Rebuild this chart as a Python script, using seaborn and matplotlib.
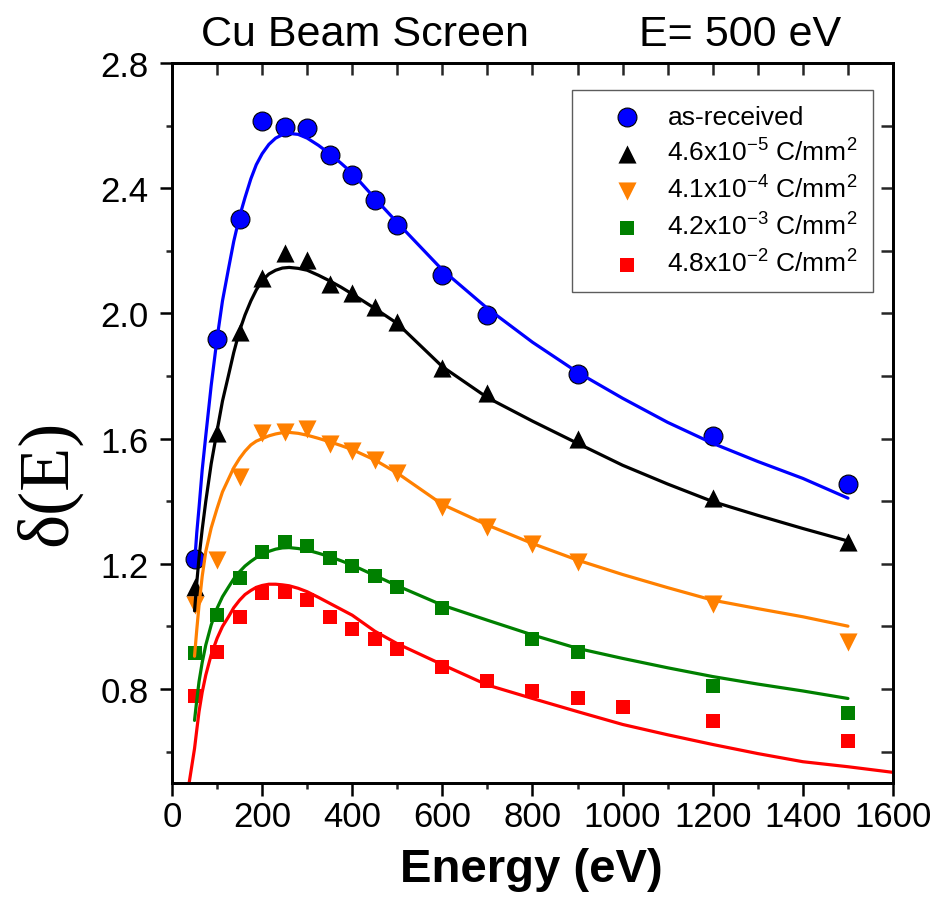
import matplotlib
matplotlib.use("Agg")
import matplotlib.pyplot as plt
import numpy as np
import seaborn as sns

sns.set_style("ticks")
plt.rcParams["font.family"] = ["Liberation Sans", "DejaVu Sans"]
plt.rcParams["text.color"] = "black"
plt.rcParams["mathtext.fontset"] = "custom"
plt.rcParams["mathtext.rm"] = "Liberation Sans"
plt.rcParams["mathtext.it"] = "Liberation Sans:italic"

# measured points
energy = [50, 100, 150, 200, 250, 300, 350, 400, 450, 500, 600, 700, 900, 1200, 1500]
sey_as_received = [1.214, 1.917, 2.303, 2.615, 2.595, 2.592, 2.505, 2.442, 2.361, 2.282,
                   2.122, 1.994, 1.805, 1.607, 1.454]

energy_46e5 = [50, 100, 150, 200, 250, 300, 350, 400, 450, 500, 600, 700, 900, 1200, 1500]
sey_46e5 = [1.126, 1.617, 1.942, 2.112, 2.192, 2.171, 2.093, 2.064, 2.022, 1.974,
            1.825, 1.745, 1.600, 1.410, 1.271]

energy_41e4 = [50, 100, 150, 200, 250, 300, 350, 400, 450, 500, 600, 700, 800, 900, 1200, 1500]
sey_41e4 = [1.068, 1.212, 1.478, 1.617, 1.620, 1.631, 1.582, 1.560, 1.532, 1.489,
            1.383, 1.319, 1.262, 1.207, 1.071, 0.951]

energy_42e3 = [50, 100, 150, 200, 250, 300, 350, 400, 450, 500, 600, 800, 900, 1200, 1500]
sey_42e3 = [0.916, 1.036, 1.156, 1.239, 1.271, 1.257, 1.220, 1.193, 1.161, 1.127,
            1.060, 0.959, 0.919, 0.810, 0.725]

energy_48e2 = [50, 100, 150, 200, 250, 300, 350, 400, 450, 500, 600, 700, 800, 900, 1000, 1200, 1500]
sey_48e2 = [0.778, 0.919, 1.029, 1.108, 1.110, 1.084, 1.029, 0.992, 0.959, 0.929,
            0.869, 0.826, 0.794, 0.770, 0.744, 0.698, 0.635]

# fitted curves
fit_energy = [50, 55, 60, 67, 75, 87, 100, 112, 125, 137, 150, 162, 175, 187, 200, 215,
              230, 245, 260, 280, 300, 325, 350, 375, 400, 450, 500,
              600, 700, 800, 900, 1000, 1100, 1200, 1300, 1400, 1500]
fit_as_received = [1.20, 1.30, 1.38, 1.50, 1.61, 1.77, 1.92, 2.04, 2.14, 2.23, 2.31, 2.37,
                   2.43, 2.475, 2.51, 2.54, 2.56, 2.571, 2.575, 2.572, 2.56, 2.537, 2.51,
                   2.48, 2.448, 2.368, 2.29, 2.139, 2.016, 1.908, 1.812, 1.729, 1.652,
                   1.585, 1.527, 1.473, 1.41]
fit_46e5 = [1.05, 1.14, 1.22, 1.31, 1.40, 1.52, 1.625, 1.72, 1.80, 1.875, 1.945, 1.995,
            2.04, 2.075, 2.105, 2.126, 2.138, 2.145, 2.147, 2.144, 2.138, 2.122, 2.104,
            2.084, 2.062, 2.016, 1.968, 1.83, 1.731, 1.656, 1.585, 1.515, 1.455, 1.399,
            1.355, 1.313, 1.273]
fit_41e4 = [0.905, 0.99, 1.068, 1.16, 1.24, 1.315, 1.377, 1.43, 1.47, 1.507, 1.537, 1.56,
            1.58, 1.592, 1.60, 1.609, 1.615, 1.619, 1.62, 1.617, 1.611, 1.601, 1.59,
            1.578, 1.565, 1.532, 1.49, 1.39, 1.324, 1.265, 1.212, 1.166, 1.124, 1.084,
            1.057, 1.031, 1.001]
fit_42e3 = [0.70, 0.765, 0.824, 0.885, 0.941, 1.005, 1.058, 1.095, 1.125, 1.152, 1.175,
            1.193, 1.208, 1.220, 1.230, 1.240, 1.247, 1.251, 1.252, 1.249, 1.244, 1.234,
            1.223, 1.210, 1.196, 1.163, 1.13, 1.068, 1.02, 0.973, 0.93, 0.898, 0.868,
            0.84, 0.816, 0.794, 0.77]

fit_energy_red = [38, 44, 50, 55, 60, 67, 75, 87, 100, 112, 125, 137, 150, 162, 175, 187,
                  200, 215, 230, 245, 260, 280, 300, 325, 350, 375, 400, 450, 500,
                  600, 700, 800, 900, 1000, 1100, 1200, 1300, 1400, 1500, 1600]
fit_48e2 = [0.50, 0.555, 0.61, 0.67, 0.728, 0.79, 0.845, 0.91, 0.962, 1.0, 1.03, 1.06,
            1.084, 1.102, 1.115, 1.125, 1.131, 1.135, 1.135, 1.133, 1.13, 1.122, 1.111,
            1.093, 1.074, 1.055, 1.036, 0.985, 0.945, 0.878, 0.813, 0.77, 0.728, 0.687,
            0.654, 0.623, 0.594, 0.568, 0.552, 0.534]

labels = ["as-received",
          r"4.6x10$^{-5}$ C/mm$^{2}$",
          r"4.1x10$^{-4}$ C/mm$^{2}$",
          r"4.2x10$^{-3}$ C/mm$^{2}$",
          r"4.8x10$^{-2}$ C/mm$^{2}$"]
colors = ["#0000FF", "#000000", "#FF8000", "#008000", "#FF0000"]

series = [
    (energy, sey_as_received, fit_energy, fit_as_received, "o", 185),
    (energy_46e5, sey_46e5, fit_energy, fit_46e5, "^", 170),
    (energy_41e4, sey_41e4, fit_energy, fit_41e4, "v", 170),
    (energy_42e3, sey_42e3, fit_energy, fit_42e3, "s", 95),
    (energy_48e2, sey_48e2, fit_energy_red, fit_48e2, "s", 95),
]

fig = plt.figure(figsize=(9.37, 9.03), dpi=100)
ax = fig.add_axes([172 / 937, 1 - 784 / 903, 721 / 937, 720 / 903])

for (ex, ey, fx, fy, marker, size), label, color in zip(series, labels, colors):
    edge = "black" if marker == "o" else color
    lw = 0.8 if marker == "o" else 0
    sns.scatterplot(x=ex, y=ey, marker=marker, s=size, color=color, edgecolor=edge,
                    linewidth=lw, label=label, ax=ax, zorder=3)
    sns.lineplot(x=fx, y=fy, color=color, lw=2.3, sort=False, estimator=None,
                 ax=ax, zorder=4, legend=False)

ax.set_xlim(0, 1600)
ax.set_ylim(0.5, 2.8)
ax.set_xticks(np.arange(0, 1601, 200))
ax.set_xticks(np.arange(100, 1600, 200), minor=True)
ax.set_yticks([0.8, 1.2, 1.6, 2.0, 2.4, 2.8])
ax.set_yticks([0.6, 1.0, 1.4, 1.8, 2.2, 2.6], minor=True)
ax.set_yticklabels(["0.8", "1.2", "1.6", "2.0", "2.4", "2.8"])
ax.tick_params(which="major", direction="out", length=9, width=1.8, labelsize=25,
               colors="black", pad=3, top=False, right=False)
ax.tick_params(axis="y", which="major", pad=8)
ax.tick_params(which="minor", direction="out", length=4.5, width=1.8, top=False, right=False)
ax.set_xlabel("")
ax.set_ylabel("")
for spine in ax.spines.values():
    spine.set_visible(True)
    spine.set_linewidth(1.8)
    spine.set_color("black")

# top and right ticks point inwards, every minor step
top = ax.twiny()
top.set_xlim(ax.get_xlim())
top.set_xticks(np.arange(0, 1601, 100))
top.tick_params(axis="x", direction="in", length=8.5, width=1.8, top=True, bottom=False,
                labeltop=False, labelbottom=False)
right = ax.twinx()
right.set_ylim(ax.get_ylim())
right.set_yticks(np.arange(0.6, 2.81, 0.2))
right.tick_params(axis="y", direction="in", length=8.5, width=1.8, right=True, left=False,
                  labelright=False, labelleft=False)
for tw in (top, right):
    tw.grid(False)
    for spine in tw.spines.values():
        spine.set_linewidth(1.8)
        spine.set_color("black")
top.tick_params(axis="y", left=False, right=False, labelleft=False, labelright=False)
right.tick_params(axis="x", top=False, bottom=False, labeltop=False, labelbottom=False)

leg = ax.legend(loc="upper right", bbox_to_anchor=(0.972, 0.9625), borderaxespad=0,
                fontsize=19, frameon=True, fancybox=False, borderpad=0.57,
                handlelength=3.0, handletextpad=0.05, labelspacing=0.37)
leg.get_frame().set_edgecolor("#333333")
leg.get_frame().set_linewidth(1.0)
for t in leg.get_texts():
    t.set_color("black")

fig.text(365 / 937, 1 - 46 / 903, "Cu Beam Screen", fontsize=31, ha="center", va="baseline")
fig.text(740 / 937, 1 - 46 / 903, "E= 500 eV", fontsize=31, ha="center", va="baseline")
fig.text(531 / 937, 1 - 882 / 903, "Energy (eV)", fontsize=34, fontweight="bold",
         ha="center", va="baseline")
fig.text(48 / 937, 1 - 483 / 903, "δ(E)", fontsize=52, rotation=90, ha="center",
         va="center", family=["Liberation Serif", "DejaVu Serif"])

fig.savefig("out.png", dpi=100)
